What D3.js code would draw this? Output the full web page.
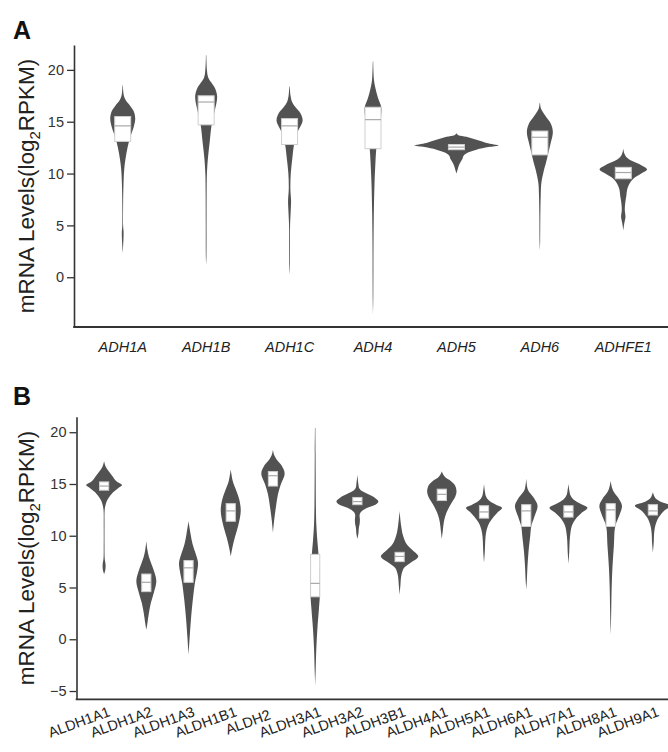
<!DOCTYPE html>
<html><head><meta charset="utf-8">
<script src="https://cdn.jsdelivr.net/npm/d3@7"></script>
<style>body{margin:0;background:#fff;} svg{display:block;font-family:Arial,"Liberation Sans",sans-serif;}</style>
</head><body><svg id="c" width="668" height="752"></svg>
<script>
// ---------- Panel A data ----------
const adhGenes = ["ADH1A","ADH1B","ADH1C","ADH4","ADH5","ADH6","ADHFE1"];
const adhQ1 = [13.1,14.7,12.8,12.4,12.3,11.8,9.5];
const adhMedian = [14.6,16.9,14.6,15.2,12.55,13.5,10.1];
const adhQ3 = [15.5,17.5,15.3,16.4,12.8,14.1,10.6];
// density profiles: [value, relative density]
const adhDensity = [
  [[2.3,0],[3,0.4],[4.3,0.9],[5,0.4],[7,0.4],[9,0.8],[10.5,1.6],[12,3.8],[13,6],[13.8,8.5],[14.5,11],[15.3,12.5],[16,11],[16.6,7],[17,3.5],[17.5,1.2],[18.5,0.2]],
  [[1.2,0],[2,0.3],[5,0.4],[8,0.5],[10,0.8],[11.5,1.8],[13,3.5],[14.7,5.5],[16,8.5],[17.4,11],[18.2,9],[18.8,5],[19.3,2],[20,0.8],[21.4,0.2]],
  [[0.2,0],[1,0.3],[3,0.4],[5,0.5],[6.5,1.2],[7.4,1.5],[8.5,0.8],[10,1.2],[11.5,2.8],[12.8,4.5],[14,8],[15.1,13],[15.8,11],[16.4,6],[16.9,2.5],[17.5,1],[18.4,0.2]],
  [[-3.7,0],[-2,0.3],[0,0.4],[3,0.5],[6,0.8],[9,1.5],[11,2.4],[12.4,3.3],[14,5.5],[15.5,8],[16.4,8.3],[17.3,5],[18.2,2.5],[19,1],[20.8,0.2]],
  [[10,0],[10.4,1.2],[10.8,2.5],[11.1,4],[11.4,6],[11.7,7],[12.0,11],[12.3,20],[12.55,32],[12.7,42],[12.95,30],[13.25,20],[13.55,10],[13.7,2],[13.9,0]],
  [[2.6,0],[3.5,0.3],[6,0.5],[8,0.9],[9.1,1.5],[10.3,4],[11.0,6],[11.8,8],[12.8,10.5],[14.0,13],[14.8,11],[15.5,6],[16.0,2.5],[16.3,1],[16.8,0.2]],
  [[4.5,0],[5.2,1],[5.8,2.2],[6.5,1.5],[7.2,2],[7.8,3],[8.5,4],[9.0,6],[9.5,10],[10.0,18],[10.4,23.7],[10.8,18],[11.2,9],[11.6,3],[11.9,1.2],[12.4,0]]
];
const adhTicks = [0,5,10,15,20];

// ---------- Panel B data ----------
const aldhGenes = ["ALDH1A1","ALDH1A2","ALDH1A3","ALDH1B1","ALDH2","ALDH3A1","ALDH3A2","ALDH3B1","ALDH4A1","ALDH5A1","ALDH6A1","ALDH7A1","ALDH8A1","ALDH9A1"];
const aldhQ1 = [14.4,4.6,5.5,11.4,14.8,4.1,13.0,7.5,13.4,11.7,10.9,11.8,10.9,12.0];
const aldhMedian = [14.8,5.5,6.9,12.4,15.8,5.4,13.3,8.0,14.0,12.3,12.4,12.3,12.5,12.4];
const aldhQ3 = [15.2,6.3,7.6,13.1,16.2,8.2,13.7,8.4,14.5,12.9,13.0,12.9,13.1,13.0];
const aldhDensity = [
  [[6.3,0],[6.7,1.2],[7.2,1.5],[7.8,0.6],[9,0.4],[11,0.4],[12.5,0.6],[13.0,1.5],[13.5,3.5],[14.2,9],[14.6,14],[14.9,18],[15.3,12],[15.8,8],[16.3,4],[16.7,1.5],[17.2,0]],
  [[0.9,0],[1.5,1],[2.5,2.5],[3.5,4.5],[4.5,7.5],[5.6,10],[6.5,8],[7.3,5],[8,2.5],[8.7,1],[9.5,0]],
  [[-1.5,0],[0,1],[2,2.5],[4,4.5],[5.5,6.5],[6.5,8.5],[7.4,9.5],[8.3,7],[9.2,4],[10.2,2],[11.4,0]],
  [[8,0],[8.8,1.5],[9.8,4],[11,7.5],[12.4,10],[13.5,8.5],[14.5,5],[15.3,2],[16.4,0]],
  [[10.3,0],[11.5,1.2],[12.8,3],[14,5],[15,8],[16,11.7],[16.8,8.5],[17.4,3.5],[17.8,1.2],[18.3,0]],
  [[-4.5,0],[-3,0.5],[-1,1.1],[1,2.2],[3,3.8],[4.5,4.8],[6,4.5],[8,3.5],[9.5,2.2],[11,1.2],[13,0.7],[16,0.5],[18,0.4],[20.4,0.2]],
  [[9.7,0],[10.2,1],[10.8,1.5],[11.1,2.2],[11.6,2.5],[12.0,2.2],[12.3,3.5],[12.7,10],[13.0,18],[13.3,21],[13.7,17],[14.0,11],[14.3,5],[14.6,1.8],[15.0,1],[15.9,0]],
  [[4.3,0],[5.2,0.8],[6.2,1.8],[6.9,4.5],[7.4,11],[8,18.7],[8.6,13],[9.2,7],[10,3.5],[11,1.5],[12.4,0]],
  [[9.7,0],[10.5,1],[11.3,2],[11.9,3.5],[12.5,6],[13.2,10],[13.8,13.5],[14.3,14.7],[14.9,13],[15.3,9],[15.6,4],[15.9,1.5],[16.2,0]],
  [[7.4,0],[8.5,0.8],[9.5,1.2],[10.3,2],[11,4],[11.5,7],[12.2,13],[12.7,18],[13.0,12],[13.4,5],[13.8,2],[14.2,1],[15,0]],
  [[4.8,0],[5.5,0.5],[7,1.2],[8.5,2.3],[10,4],[10.9,5],[11.8,8],[12.9,11.3],[13.6,8],[14.1,4],[14.5,1.5],[15.5,0]],
  [[7.3,0],[8.5,0.8],[9.5,1.2],[10.3,2],[11,3.5],[11.6,7],[12.2,13],[12.7,19],[13.1,12],[13.5,5],[13.9,2],[14.3,1],[15,0]],
  [[0.45,0],[1.5,0.3],[3,0.6],[5,1.0],[7,1.8],[9,3.2],[10.9,4.5],[11.8,8],[12.9,11.3],[13.6,8],[14.1,4],[14.6,1.5],[15.3,0]],
  [[8.4,0],[9.3,0.8],[10.2,1.2],[10.8,2],[11.3,3.5],[11.8,6],[12.4,11],[12.9,18],[13.2,10],[13.5,4],[13.8,1.5],[14.2,0]]
];
const aldhTicks = [-5,0,5,10,15,20];

const yLabelMain = "mRNA Levels(log";
const yLabelSub = "2";
const yLabelEnd = "RPKM)";

const svg = d3.select("#c");
const violinColor = "#525252";

function drawPanel(cfg) {
  const g = svg.append("g");
  const y = d3.scaleLinear().domain(cfg.yDomain).range([cfg.bottom, cfg.top]);
  const x = d3.scaleBand().domain(cfg.genes).range(cfg.xRange);
  const cx = gname => x(gname) + x.bandwidth() / 2;
  const maxD = d3.max(cfg.density, p => d3.max(p, d => d[1]));
  const w = d3.scaleLinear().domain([0, maxD]).range([0, cfg.maxHalf]);

  // axes
  const ya = d3.axisLeft(y).tickValues(cfg.ticks).tickSize(7).tickPadding(3).tickSizeOuter(0);
  const yg = g.append("g").attr("transform", `translate(${cfg.axisX},0)`).call(ya);
  yg.select(".domain").attr("stroke", "#333").attr("stroke-width", 1.6);
  yg.selectAll(".tick line").attr("stroke", "#333").attr("stroke-width", 1.3);
  yg.selectAll(".tick text").attr("fill", "#333").attr("font-size", 14.5).attr("font-family", "Arial, 'Liberation Sans', sans-serif");
  g.append("line").attr("x1", cfg.axisX - 0.8).attr("x2", 668).attr("y1", cfg.bottom).attr("y2", cfg.bottom)
    .attr("stroke", "#333").attr("stroke-width", 1.8);

  // violins
  cfg.genes.forEach((gname, i) => {
    const c = cx(gname);
    const area = d3.area()
      .y(d => y(d[0]))
      .x0(d => c - w(d[1]))
      .x1(d => c + w(d[1]))
      .curve(d3.curveCatmullRom.alpha(0.5));
    g.append("path").attr("d", area(cfg.density[i])).attr("fill", violinColor);
    g.append("rect").attr("x", c - cfg.boxHalf).attr("width", cfg.boxHalf * 2)
      .attr("y", y(cfg.q3[i])).attr("height", y(cfg.q1[i]) - y(cfg.q3[i]))
      .attr("fill", "#fff").attr("stroke", "#cfcfcf").attr("stroke-width", 1);
    g.append("line").attr("x1", c - cfg.boxHalf).attr("x2", c + cfg.boxHalf)
      .attr("y1", y(cfg.median[i])).attr("y2", y(cfg.median[i]))
      .attr("stroke", "#a8a8a8").attr("stroke-width", 1.2);
  });

  // category labels
  cfg.genes.forEach(gname => {
    const c = cx(gname);
    if (cfg.rotate) {
      g.append("text").attr("transform", `translate(${c - 25},${cfg.labelY}) rotate(-20)`)
        .attr("text-anchor", "middle").attr("dominant-baseline", "central")
        .attr("font-size", 14.5).attr("fill", "#222").text(gname);
    } else {
      g.append("text").attr("x", c).attr("y", cfg.labelY).attr("text-anchor", "middle")
        .attr("font-size", 14.5).attr("font-style", "italic").attr("fill", "#222").text(gname);
    }
  });

  // y label
  const midY = (cfg.top + cfg.bottom) / 2;
  const t = g.append("text").attr("transform", `translate(34,${midY}) rotate(-90)`)
    .attr("text-anchor", "middle").attr("font-size", 22.5).attr("fill", "#222");
  t.append("tspan").text(yLabelMain);
  t.append("tspan").attr("font-size", 15).attr("dy", 6).text(yLabelSub);
  t.append("tspan").attr("dy", -6).text(yLabelEnd);

  // panel letter
  g.append("text").attr("x", 13).attr("y", cfg.letterY).attr("font-size", 25)
    .attr("font-weight", "bold").attr("fill", "#111").text(cfg.letter);
}

drawPanel({
  genes: adhGenes, q1: adhQ1, median: adhMedian, q3: adhQ3, density: adhDensity, ticks: adhTicks,
  yDomain: [-4.8, 22.4], top: 45, bottom: 327, axisX: 74, xRange: [81, 665],
  maxHalf: 42, boxHalf: 8, rotate: false, labelY: 352, letter: "A", letterY: 39
});
drawPanel({
  genes: aldhGenes, q1: aldhQ1, median: aldhMedian, q3: aldhQ3, density: aldhDensity, ticks: aldhTicks,
  yDomain: [-5.8, 21.5], top: 416.7, bottom: 699.3, axisX: 76.5, xRange: [83, 674],
  maxHalf: 21, boxHalf: 4.6, rotate: true, labelY: 722, letter: "B", letterY: 405
});
</script></body></html>
